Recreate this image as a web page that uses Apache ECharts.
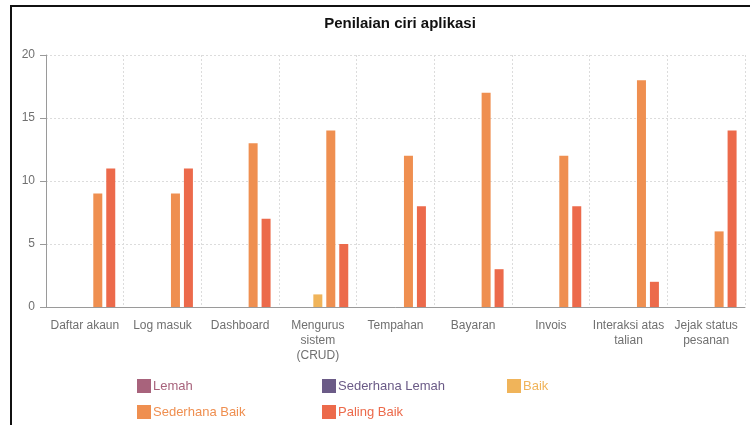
<!DOCTYPE html>
<html>
<head>
<meta charset="utf-8">
<script src="https://cdn.jsdelivr.net/npm/echarts@6/dist/echarts.min.js"></script>
<style>
html,body{margin:0;padding:0;background:#fff;}
#frame{position:absolute;left:10px;top:5px;width:740px;height:420px;border-top:2px solid #111;border-left:2px solid #111;}
#chart{position:absolute;left:0;top:0;width:750px;height:425px;}
</style>
</head>
<body>
<div id="frame"></div>
<div id="chart"></div>
<script>
const categories = ['Daftar akaun','Log masuk','Dashboard','Mengurus\nsistem\n(CRUD)','Tempahan','Bayaran','Invois','Interaksi atas\ntalian','Jejak status\npesanan'];
const seriesNames = ['Lemah','Sederhana Lemah','Baik','Sederhana Baik','Paling Baik'];
const lemah = [0,0,0,0,0,0,0,0,0];
const sederhanaLemah = [0,0,0,0,0,0,0,0,0];
const baik = [0,0,0,1,0,0,0,0,0];
const sederhanaBaik = [9,9,13,14,12,17,12,18,6];
const palingBaik = [11,11,7,5,8,3,8,2,14];
const colors = ['#a8637c','#6b5b87','#f0b45a','#ef8f50','#ec6a4b'];
const values = [lemah, sederhanaLemah, baik, sederhanaBaik, palingBaik];

const legendPos = [
  {left:137, top:379},
  {left:322, top:379},
  {left:507, top:379},
  {left:137, top:405},
  {left:322, top:405}
];

const chart = echarts.init(document.getElementById('chart'));
chart.setOption({
  animation:false,
  color: colors,
  title:{
    text:'Penilaian ciri aplikasi',
    left:395, textAlign:'center', top:11,
    textStyle:{fontFamily:'Liberation Sans, Arial, sans-serif', fontSize:15, fontWeight:'bold', color:'#111'}
  },
  legend: seriesNames.map((n,i)=>({
    data:[n],
    left:legendPos[i].left, top:legendPos[i].top, padding:0,
    itemWidth:14, itemHeight:14, itemGap:4,
    icon:'rect',
    textStyle:{color:colors[i], fontSize:13, fontFamily:'Liberation Sans, Arial, sans-serif', padding:[0,0,0,-3]}
  })),
  grid:{left:46, right:5, top:55, bottom:118, containLabel:false},
  xAxis:{
    type:'category',
    data:categories,
    axisLine:{lineStyle:{color:'#9a9a9a'}},
    axisTick:{alignWithLabel:true, length:5, lineStyle:{color:'#9a9a9a'}},
    axisLabel:{color:'#707070', fontSize:12, fontFamily:'Liberation Sans, Arial, sans-serif', margin:11, lineHeight:15, interval:0},
    splitLine:{show:true, lineStyle:{color:'#dcdcdc', type:[2,2]}}
  },
  yAxis:{
    type:'value', min:0, max:20, interval:5,
    axisLine:{show:true, lineStyle:{color:'#9a9a9a'}},
    axisTick:{show:true, length:6, lineStyle:{color:'#9a9a9a'}},
    axisLabel:{color:'#707070', fontSize:12, fontFamily:'Liberation Sans, Arial, sans-serif', margin:11},
    splitLine:{show:true, lineStyle:{color:'#dcdcdc', type:[2,2]}}
  },
  series: seriesNames.map((n,i)=>({
    name:n, type:'bar', data:values[i],
    barWidth:9, barGap:'44%', barCategoryGap:'22%'
  }))
});
</script>
</body>
</html>
